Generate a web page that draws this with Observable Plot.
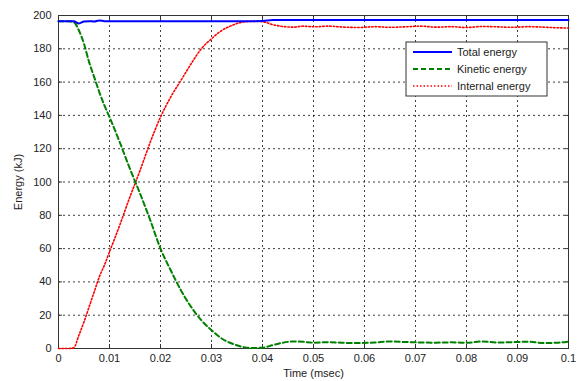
<!DOCTYPE html>
<html>
<head>
<meta charset="utf-8">
<script src="https://cdn.jsdelivr.net/npm/d3@7"></script>
<script src="https://cdn.jsdelivr.net/npm/@observablehq/plot@0.6"></script>
<style>
  html, body { margin: 0; padding: 0; background: #fff; }
  #chart { width: 586px; height: 381px; }
</style>
</head>
<body>
<div id="chart"></div>
<script>
// ---- data ----
const time = [0, 0.001, 0.002, 0.003, 0.004, 0.005, 0.006, 0.007, 0.008, 0.009,
  0.010, 0.012, 0.014, 0.016, 0.018, 0.020, 0.022, 0.024, 0.026, 0.028,
  0.030, 0.032, 0.034, 0.036, 0.038, 0.040, 0.042, 0.044, 0.046, 0.048,
  0.050, 0.053, 0.056, 0.059, 0.062, 0.065, 0.068, 0.071, 0.074, 0.077,
  0.080, 0.083, 0.086, 0.089, 0.092, 0.095, 0.098, 0.100];

const totalEnergy = [196.6, 196.6, 196.6, 196.5, 195.2, 196.4, 196.6, 196.4, 197.0, 196.6,
  196.6, 196.6, 196.6, 196.6, 196.6, 196.6, 196.6, 196.6, 196.6, 196.6,
  196.6, 196.6, 196.6, 196.6, 196.6, 196.7, 197.3, 197.3, 197.3, 197.3,
  197.3, 197.3, 197.3, 197.3, 197.3, 197.3, 197.3, 197.3, 197.3, 197.3,
  197.3, 197.3, 197.3, 197.3, 197.3, 197.3, 197.3, 197.3];

const kineticEnergy = [196.6, 196.6, 196.6, 196.0, 191, 183, 172, 163, 154, 146,
  139, 124, 108, 93, 77, 60, 47, 35, 25, 17,
  11, 6, 3, 1, 0.3, 0.5, 2, 3.5, 4.2, 4.0,
  3.5, 3.8, 3.4, 3.3, 3.6, 4.2, 3.9, 3.6, 3.5, 3.7,
  3.4, 4.2, 3.6, 3.8, 4.1, 3.3, 3.5, 4.2];

const internalEnergy = [0, 0, 0, 0.5, 8, 16, 25, 34, 43, 50,
  58, 74, 91, 107, 124, 139, 151, 161, 171, 180,
  186, 191, 194, 196, 196.5, 196.3, 194.5, 193.4, 193.0, 193.6,
  193.2, 193.6, 193.0, 192.8, 193.3, 192.9, 193.2, 193.6, 193.0, 193.3,
  192.8, 193.4, 193.2, 192.9, 193.3, 193.0, 192.6, 192.5];

const seriesNames = ["Total energy", "Kinetic energy", "Internal energy"];
const seriesColors = ["#0000ff", "#008000", "#ff0000"];

const xTicks = [0, 0.01, 0.02, 0.03, 0.04, 0.05, 0.06, 0.07, 0.08, 0.09, 0.1];
const xTickLabels = ["0", "0.01", "0.02", "0.03", "0.04", "0.05", "0.06", "0.07", "0.08", "0.09", "0.1"];
const yTicks = [0, 20, 40, 60, 80, 100, 120, 140, 160, 180, 200];

// ---- build table ----
const seriesValues = [totalEnergy, kineticEnergy, internalEnergy];
const rows = [];
seriesNames.forEach((name, s) => {
  time.forEach((t, i) => rows.push({ series: name, t, e: seriesValues[s][i] }));
});
const seriesRows = name => rows.filter(r => r.series === name);

const fontFamily = "'Liberation Sans', Arial, sans-serif";
const tickColor = "#333";
const redDash = "1.5,2";
const greenDash = "5,3";

const plot = Plot.plot({
  width: 586,
  height: 381,
  marginLeft: 58,
  marginRight: 18,
  marginTop: 15,
  marginBottom: 33,
  style: { background: "#fff", fontFamily, fontSize: "11px", color: "#222" },
  x: { domain: [0, 0.1] },
  y: { domain: [0, 200] },
  marks: [
    Plot.gridX(xTicks, { stroke: "#000", strokeOpacity: 0.75, strokeDasharray: "2,3" }),
    Plot.gridY(yTicks, { stroke: "#000", strokeOpacity: 0.75, strokeDasharray: "2,3" }),
    Plot.frame({ stroke: "#333", strokeWidth: 1 }),
    // axes with labels
    Plot.axisX({ ticks: xTicks, tickSize: 0, tickPadding: 6, tickFormat: (d, i) => xTickLabels[i],
      label: "Time (msec)", labelAnchor: "center", labelArrow: "none", labelOffset: 28, fill: "#222" }),
    Plot.axisY({ ticks: yTicks, tickSize: 0, tickPadding: 7, tickFormat: d => String(d),
      label: "Energy (kJ)", labelAnchor: "center", labelArrow: "none", labelOffset: 44, fill: "#222" }),
    // inner tick marks on all four sides
    Plot.axisX({ ticks: xTicks, anchor: "bottom", tickSize: 4, dy: -4, text: null, label: null, stroke: tickColor }),
    Plot.axisX({ ticks: xTicks, anchor: "top", tickSize: 4, dy: 4, text: null, label: null, stroke: tickColor }),
    Plot.axisY({ ticks: yTicks, anchor: "left", tickSize: 4, dx: 4, text: null, label: null, stroke: tickColor }),
    Plot.axisY({ ticks: yTicks, anchor: "right", tickSize: 4, dx: -4, text: null, label: null, stroke: tickColor }),
    // series
    Plot.line(seriesRows("Internal energy"), { x: "t", y: "e", stroke: seriesColors[2], strokeWidth: 1.6, strokeDasharray: redDash, curve: "monotone-x" }),
    Plot.line(seriesRows("Kinetic energy"), { x: "t", y: "e", stroke: seriesColors[1], strokeWidth: 2, strokeDasharray: greenDash, curve: "monotone-x" }),
    Plot.line(seriesRows("Total energy"), { x: "t", y: "e", stroke: seriesColors[0], strokeWidth: 2, curve: "monotone-x" })
  ]
});

document.getElementById("chart").appendChild(plot);

// ---- legend box inside the plot area ----
const svg = d3.select(plot);
const lg = svg.append("g").attr("transform", "translate(406,42)");
lg.append("rect").attr("width", 141).attr("height", 54)
  .attr("fill", "#fff").attr("stroke", "#333").attr("stroke-width", 1);
const dashes = [null, greenDash, redDash];
const widths = [2, 2, 1.6];
seriesNames.forEach((name, i) => {
  const y = 10 + i * 17;
  lg.append("line").attr("x1", 7).attr("x2", 46).attr("y1", y).attr("y2", y)
    .attr("stroke", seriesColors[i]).attr("stroke-width", widths[i])
    .attr("stroke-dasharray", dashes[i]);
  lg.append("text").attr("x", 51).attr("y", y + 4)
    .attr("text-anchor", "start")
    .attr("font-family", fontFamily).attr("font-size", 11).attr("fill", "#222")
    .text(name);
});
</script>
</body>
</html>
